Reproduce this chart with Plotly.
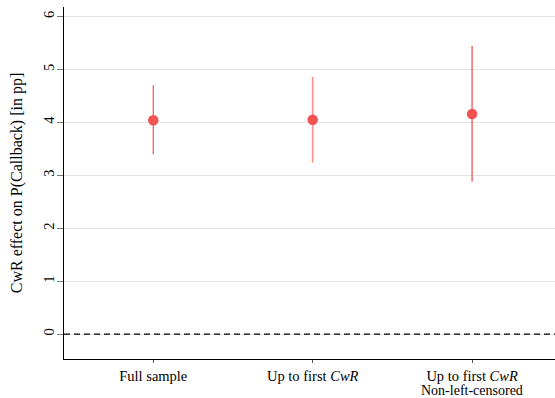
import plotly.graph_objects as go

# Estimates of the CwR effect on callback probability (percentage points)
categories = ["Full sample", "Up to first <i>CwR</i>", "Up to first <i>CwR</i>"]
subtitles = ["", "", "Non-left-censored"]
estimates = [4.04, 4.05, 4.16]
ci_low = [3.40, 3.24, 2.88]
ci_high = [4.70, 4.86, 5.45]

y_ticks = [0, 1, 2, 3, 4, 5, 6]

marker_color = "#f25252"
bar_colors = ["#e9565a", "#f59595", "#f26c6c"]
bar_widths = [1.2, 1.8, 1.5]

fig = go.Figure()

xs = list(range(len(categories)))
for i, x in enumerate(xs):
    fig.add_trace(go.Scatter(
        x=[x, x], y=[ci_low[i], ci_high[i]],
        mode="lines",
        line=dict(color=bar_colors[i], width=bar_widths[i]),
        showlegend=False, hoverinfo="skip",
    ))

fig.add_trace(go.Scatter(
    x=xs, y=estimates,
    mode="markers",
    marker=dict(color=marker_color, size=10.5, line=dict(width=0)),
    showlegend=False,
))

# Reference line at zero effect
fig.add_shape(type="line", xref="paper", yref="y", x0=0, x1=1, y0=0, y1=0,
              line=dict(color="black", width=1.1, dash="6px,4px"))

font_family = "Liberation Serif, Times New Roman, serif"

# Second line of category labels, set tighter than the default line spacing
for x, sub in zip(xs, subtitles):
    if sub:
        fig.add_annotation(x=x, xref="x", y=0, yref="paper", yanchor="middle",
                           yshift=-31.5, text=sub, showarrow=False,
                           font=dict(family=font_family, size=14, color="black"))

fig.update_layout(
    width=555, height=398,
    margin=dict(l=64, r=0, t=7, b=39),
    plot_bgcolor="white", paper_bgcolor="white",
    font=dict(family=font_family, size=14, color="black"),
    xaxis=dict(
        range=[-0.56, 2.52],
        automargin=False,
        tickmode="array", tickvals=xs, ticktext=categories,
        showgrid=False, zeroline=False,
        showline=True, linecolor="black", linewidth=1.2,
        ticks="outside", ticklen=3, tickcolor="#555555", tickwidth=1,
        tickfont=dict(family=font_family, size=14.5),
    ),
    yaxis=dict(
        range=[-0.47, 6.18],
        automargin=False,
        tickmode="array", tickvals=y_ticks,
        tickangle=-90,
        ticklabelstandoff=-3,
        showgrid=True, gridcolor="#e4e4e4", gridwidth=1,
        zeroline=False,
        showline=True, linecolor="black", linewidth=1.2,
        ticks="outside", ticklen=6, tickcolor="#777777", tickwidth=1,
        tickfont=dict(family=font_family, size=14.5),
        title=dict(text="CwR effect on P(Callback) [in pp]",
                   font=dict(family=font_family, size=16), standoff=14),
    ),
)

fig.write_html("out.html")
